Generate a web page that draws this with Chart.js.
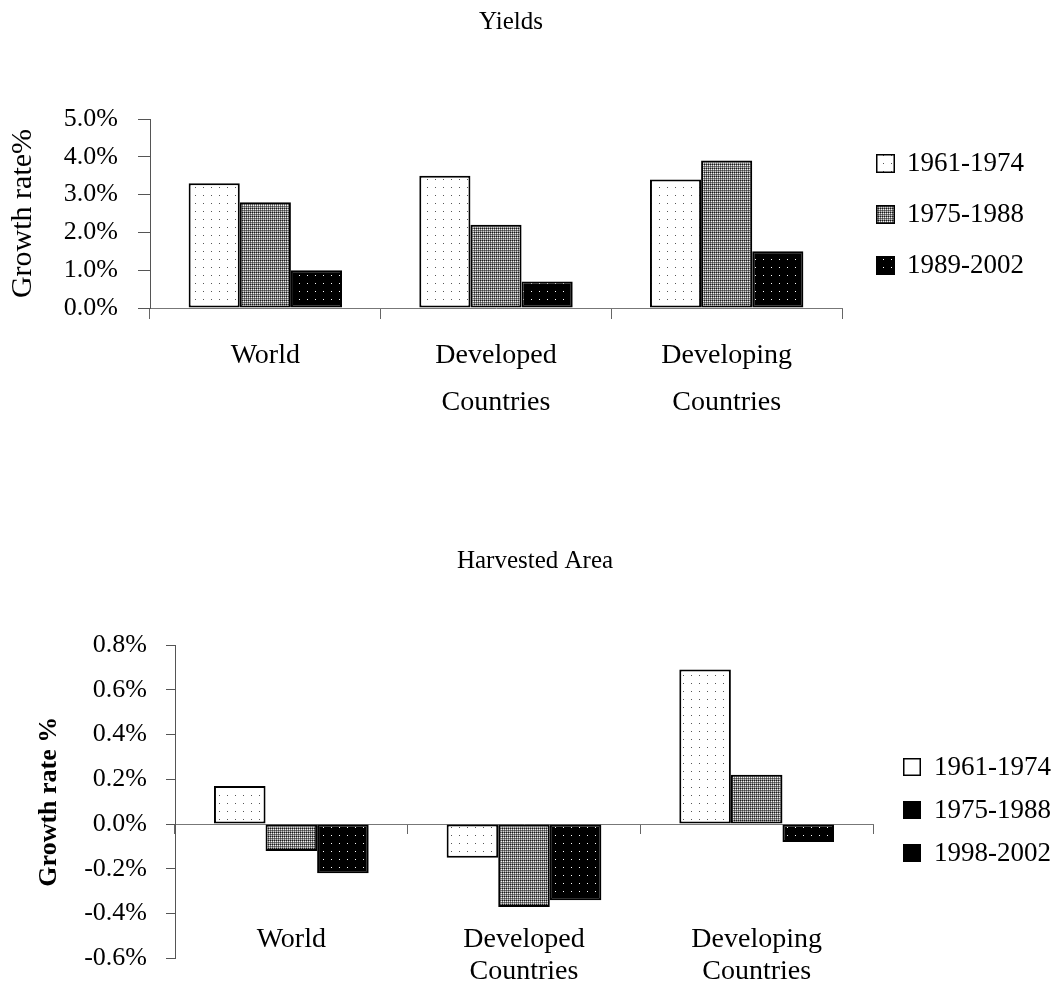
<!DOCTYPE html>
<html>
<head>
<meta charset="utf-8">
<script src="https://cdn.jsdelivr.net/npm/chart.js@4/dist/chart.umd.min.js"></script>
<style>
  html, body { margin: 0; padding: 0; background: #fff; }
  #wrap { position: relative; width: 1062px; height: 993px; overflow: hidden; }
  .panel { position: absolute; left: 0; width: 1062px; }
</style>
</head>
<body>
<div id="wrap">
  <div class="panel" style="top:0;height:500px"><canvas id="yields" width="1062" height="500"></canvas></div>
  <div class="panel" style="top:520px;height:473px"><canvas id="area" width="1062" height="473"></canvas></div>
</div>
<script>
// ---- data ----
const categories = ['World', ['Developed', 'Countries'], ['Developing', 'Countries']];

const yieldPeriods = ['1961-1974', '1975-1988', '1989-2002'];
const yield1961_1974 = [3.3, 3.5, 3.4];
const yield1975_1988 = [2.8, 2.2, 3.9];
const yield1989_2002 = [1.0, 0.7, 1.5];
const yieldTicks = [0, 5, 1];          // min, max, step (growth rate %)

const areaPeriods = ['1961-1974', '1975-1988', '1998-2002'];
const area1961_1974 = [0.17, -0.15, 0.69];
const area1975_1988 = [-0.12, -0.37, 0.22];
const area1998_2002 = [-0.22, -0.34, -0.08];
const areaTicks = [-0.6, 0.8, 0.2];    // min, max, step (growth rate %)

const SERIF = '"Liberation Serif", "Times New Roman", Times, serif';
Chart.defaults.font.family = SERIF;
Chart.defaults.color = '#000';

// ---- fill textures for the bars ----
function texture(ctx, w, h, bg, pixels) {
  const c = document.createElement('canvas');
  c.width = w; c.height = h;
  const g = c.getContext('2d');
  g.fillStyle = bg; g.fillRect(0, 0, w, h);
  pixels.forEach(([x, y, col]) => { g.fillStyle = col; g.fillRect(x, y, 1, 1); });
  return ctx.createPattern(c, 'repeat');
}
function textures(ctx) {
  return [
    // light: white with sparse grey dots
    texture(ctx, 8, 8, '#ffffff', [[3, 3, '#555555']]),
    // medium: dense grey weave
    texture(ctx, 4, 4, '#7a7a7a', [
      [0, 0, '#1a1a1a'], [2, 0, '#1a1a1a'], [1, 1, '#f2f2f2'], [3, 1, '#f2f2f2'],
      [0, 2, '#444444'], [2, 2, '#444444'], [1, 3, '#d0d0d0'], [3, 3, '#d0d0d0']
    ]),
    // dark: black with sparse white dots
    texture(ctx, 8, 8, '#000000', [[3, 3, '#ffffff']])
  ];
}

// ---- small plugins: chart heading and side legend ----
const heading = {
  id: 'heading',
  afterDraw(chart, args, o) {
    const ctx = chart.ctx;
    ctx.save();
    ctx.font = o.font;
    ctx.fillStyle = '#000';
    ctx.textAlign = 'center';
    ctx.textBaseline = 'middle';
    ctx.fillText(o.text, o.x, o.y);
    ctx.restore();
  }
};
const sideLegend = {
  id: 'sideLegend',
  afterDraw(chart, args, o) {
    const ctx = chart.ctx;
    ctx.save();
    ctx.font = o.font;
    ctx.textAlign = 'left';
    ctx.textBaseline = 'middle';
    chart.data.datasets.forEach((ds, i) => {
      const y = o.y + i * o.gap;
      const top = Math.round(y - o.size / 2);
      ctx.fillStyle = o.fills ? o.fills[i] : ds.backgroundColor;
      ctx.fillRect(o.x, top, o.size, o.size);
      ctx.lineWidth = 1.5;
      ctx.strokeStyle = '#000';
      ctx.strokeRect(o.x + 0.75, top + 0.75, o.size - 1.5, o.size - 1.5);
      ctx.fillStyle = '#000';
      ctx.fillText(ds.label, o.x + o.size + o.textGap, y + 1);
    });
    ctx.restore();
  }
};

function pct(v) { return Number(v).toFixed(1) + '%'; }

function barSet(label, data, fill) {
  return {
    label, data,
    backgroundColor: fill,
    borderColor: '#000',
    borderWidth: 2,
    borderSkipped: false,
    categoryPercentage: 0.665,
    barPercentage: 1.0
  };
}

// ---- Yields ----
(function () {
  const canvas = document.getElementById('yields');
  const ctx = canvas.getContext('2d');
  const fills = textures(ctx);
  new Chart(ctx, {
    type: 'bar',
    data: {
      labels: categories,
      datasets: [
        barSet(yieldPeriods[0], yield1961_1974, fills[0]),
        barSet(yieldPeriods[1], yield1975_1988, fills[1]),
        barSet(yieldPeriods[2], yield1989_2002, fills[2])
      ]
    },
    options: {
      responsive: false,
      animation: false,
      devicePixelRatio: 1,
      layout: { padding: { top: 119, bottom: 192, left: 0, right: 220 } },
      plugins: {
        legend: { display: false },
        tooltip: { enabled: false },
        heading: { text: 'Yields', x: 511, y: 22, font: '25px ' + SERIF },
        sideLegend: { x: 876, y: 163, gap: 51, size: 19, textGap: 12, font: '27px ' + SERIF }
      },
      scales: {
        x: {
          position: { y: 0 },
          offset: true,
          grid: { offset: true, drawOnChartArea: false, tickLength: 10, color: '#666' },
          border: { color: '#777', width: 1 },
          ticks: { font: { size: 28, lineHeight: 1.68 }, padding: 14, maxRotation: 0, autoSkip: false }
        },
        y: {
          min: yieldTicks[0], max: yieldTicks[1],
          afterFit(s) { s.width = 150; },
          grid: { drawOnChartArea: false, tickLength: 12, color: '#555' },
          border: { color: '#555', width: 1 },
          ticks: { stepSize: yieldTicks[2], padding: 20, font: { size: 26 }, callback: pct },
          title: { display: true, text: 'Growth rate%', font: { size: 30 }, padding: { top: 5, bottom: 0 } }
        }
      }
    },
    plugins: [heading, sideLegend]
  });
})();

// ---- Harvested Area ----
(function () {
  const canvas = document.getElementById('area');
  const ctx = canvas.getContext('2d');
  const fills = textures(ctx);
  new Chart(ctx, {
    type: 'bar',
    data: {
      labels: categories,
      datasets: [
        barSet(areaPeriods[0], area1961_1974, fills[0]),
        barSet(areaPeriods[1], area1975_1988, fills[1]),
        barSet(areaPeriods[2], area1998_2002, fills[2])
      ]
    },
    options: {
      responsive: false,
      animation: false,
      devicePixelRatio: 1,
      layout: { padding: { top: 125, bottom: 23, left: 0, right: 189 } },
      plugins: {
        legend: { display: false },
        tooltip: { enabled: false },
        heading: { text: 'Harvested Area', x: 535, y: 41, font: '25px ' + SERIF },
        sideLegend: { x: 903, y: 247, gap: 43, size: 18, textGap: 13, font: '27px ' + SERIF,
                      fills: ['#ffffff', '#000000', '#000000'] }
      },
      scales: {
        x: {
          position: { y: 0 },
          offset: true,
          grid: { offset: true, drawOnChartArea: false, tickLength: 9, color: '#666' },
          border: { color: '#777', width: 1 },
          ticks: { font: { size: 28, lineHeight: 1.15 }, padding: 90, maxRotation: 0, autoSkip: false }
        },
        y: {
          min: areaTicks[0], max: areaTicks[1],
          afterFit(s) { s.width = 175; },
          grid: { drawOnChartArea: false, tickLength: 9, color: '#555' },
          border: { color: '#555', width: 1 },
          ticks: { stepSize: areaTicks[2], padding: 19, font: { size: 26 }, callback: pct },
          title: { display: true, text: 'Growth rate %', font: { size: 26, weight: 'bold' }, padding: { top: 34, bottom: 0 } }
        }
      }
    },
    plugins: [heading, sideLegend]
  });
})();
</script>
</body>
</html>
